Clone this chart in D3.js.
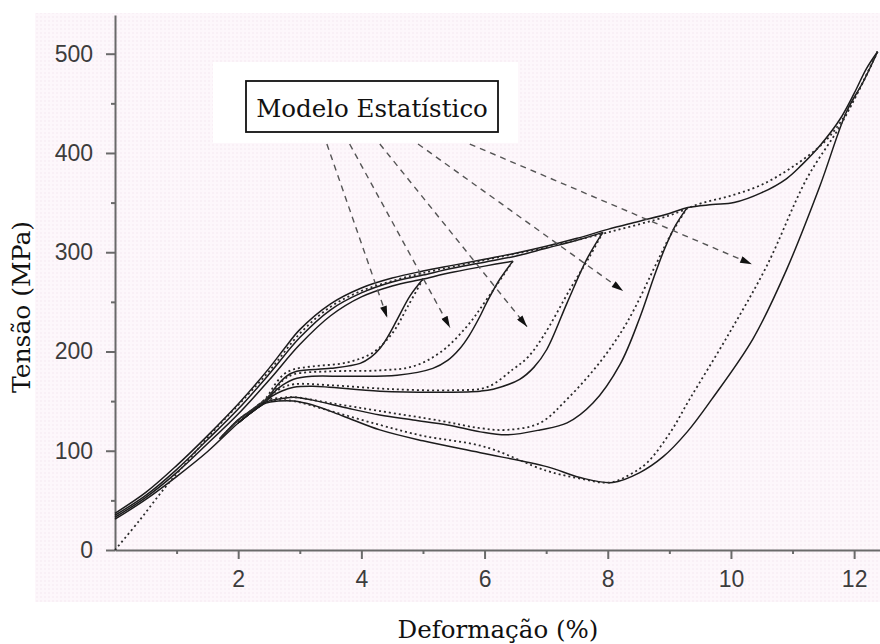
<!DOCTYPE html>
<html>
<head>
<meta charset="utf-8">
<script src="https://cdn.jsdelivr.net/npm/d3@7/dist/d3.min.js"></script>
<style>
  html, body { margin: 0; padding: 0; background: #fff; }
  svg { display: block; }
</style>
</head>
<body>
<svg id="chart" width="880" height="644"></svg>
<script>
// ---------- DATA (strain %, stress MPa) ----------
const xTicks = [2, 4, 6, 8, 10, 12];
const xMinorTicks = [1, 3, 5, 7, 9, 11];
const yTicks = [0, 100, 200, 300, 400, 500];
const yMinorTicks = [50, 150, 250, 350, 450];

// experimental loading bundle (solid)
const expLoadUpper = [[0,37],[0.5,58],[1,85],[1.5,115],[2,147],[2.5,183],[2.75,203],[3,222],[3.5,248],[4,264],[4.5,274],[5,281],[5.5,287],[6,293],[6.5,299],[7,306],[7.5,314],[8,323],[8.5,331],[9,339],[9.3,345],[9.7,348],[10.05,350],[10.5,360],[10.9,374],[11.15,388],[11.44,407],[11.77,434],[12.0,460],[12.2,485],[12.38,502]];
const expLoadMid = [[0,35],[0.5,55],[1,81],[1.5,111],[2,142],[2.5,177],[3,214],[3.5,242],[4,259],[4.5,270],[5,277],[5.5,284],[6,290],[6.5,296],[7,304],[7.5,312],[7.92,320]];
const expLoadLower = [[0,33],[0.5,53],[1,78],[1.5,107],[2,137],[2.5,171],[3,207],[3.5,236],[4,255],[4.5,266],[5,273],[5.5,280],[6,286],[6.46,291]];
// common elastic unloading tail (solid)
const expUnloadElastic = [[2.45,149],[2.2,138],[2,128],[1.5,99],[1,74],[0.5,51],[0,31]];

// experimental unloading (solid)
const expUnloadA = [[5.0,273],[4.79,256],[4.58,232],[4.42,214],[4.3,203],[4.15,194],[3.98,188],[3.5,183],[2.95,180],[2.78,175],[2.62,165],[2.45,151],[2.2,138],[2.0,128]];
const expUnloadB = [[6.46,291],[6.25,273],[6.04,250],[5.93,236],[5.75,216],[5.6,203],[5.4,191],[5.16,183],[4.58,176],[3.77,175],[3.2,175],[2.9,172],[2.72,166],[2.58,159],[2.45,150],[2.2,138],[2.0,128]];
const expUnloadC = [[7.92,320],[7.66,293],[7.34,249],[7.01,202],[6.8,184],[6.57,172],[6.14,162],[5.93,160],[5.39,159],[4.3,160],[3.21,165],[2.9,164],[2.7,160],[2.55,155],[2.45,150],[2.2,138],[2.0,128]];
const expUnloadD = [[9.29,345],[9.1,327],[8.92,303],[8.75,275],[8.52,234],[8.2,187],[7.76,148],[7.34,128],[6.9,121],[6.36,116],[5.93,119],[5.4,126],[4.84,131],[4.3,136],[3.77,143],[3.21,151],[2.9,154],[2.65,152],[2.45,149],[2.2,138],[2.0,128]];
const expUnloadE = [[12.38,502],[12.15,472],[11.88,442],[11.44,366],[10.9,282],[10.36,213],[9.69,152],[9.29,119],[8.9,94],[8.52,78],[8.08,68],[7.55,73],[7.01,84],[5.93,98],[5.0,110],[4.3,121],[3.7,135],[3.21,146],[2.9,150],[2.65,150],[2.45,148],[2.2,138],[2.0,128]];

// statistical model (dotted)
const modelLoad = [[0,0],[0.4,30],[0.8,62],[1.2,91],[1.6,120],[2,146],[2.5,180],[3,218],[3.5,245],[4,261],[4.5,271],[5,279],[6,292],[7,305],[8,320],[9,337],[9.5,349],[10,357],[10.5,368],[11,386],[11.5,410],[11.8,433],[12.1,466],[12.38,502]];
const modelUnloadA = [[5.0,273],[4.75,245],[4.51,219],[4.19,199],[3.77,189],[3.21,185],[2.9,182],[2.74,177],[2.6,167],[2.45,153],[2.2,140],[2.0,131],[1.7,112]];
const modelUnloadB = [[6.46,291],[6.04,253],[5.71,225],[5.28,199],[4.84,185],[4.3,181],[3.5,180],[2.9,177],[2.73,171],[2.6,162],[2.45,152],[2.2,140],[2.0,131],[1.7,112]];
const modelUnloadC = [[7.92,320],[7.7,295],[7.39,263],[6.95,215],[6.7,194],[6.46,182],[6.04,164],[5.5,161],[4.5,162],[3.5,166],[2.9,167],[2.7,163],[2.55,157],[2.45,152],[2.2,140],[2.0,131],[1.7,112]];
const modelUnloadD = [[9.29,345],[9.0,315],[8.8,290],[8.31,229],[7.87,189],[7.34,152],[6.9,128],[6.36,121],[5.9,123],[5.3,130],[4.3,140],[3.5,148],[2.9,154],[2.65,153],[2.45,151],[2.2,140],[2.0,131],[1.7,112]];
const modelUnloadE = [[12.38,502],[12.1,466],[11.77,427],[11.23,374],[10.58,286],[9.94,215],[9.33,152],[9.01,118],[8.64,88],[8.36,76],[8.04,68],[7.55,72],[7.0,80],[6.0,104],[5.0,115],[4.3,126],[3.5,140],[2.9,150],[2.65,151],[2.45,150],[2.2,140],[2.0,131],[1.7,112]];

const expCurves = [expLoadUpper, expLoadMid, expLoadLower, expUnloadElastic, expUnloadA, expUnloadB, expUnloadC, expUnloadD, expUnloadE];
const modelCurves = [modelLoad, modelUnloadA, modelUnloadB, modelUnloadC, modelUnloadD, modelUnloadE];

// annotation: arrows from the "Modelo Estatístico" label to the model loops (data units)
const arrowStarts = [[3.44,409],[3.81,409],[4.30,409],[4.92,409],[5.76,409]];
const arrowEnds   = [[4.42,234],[5.44,224],[6.69,225],[8.25,261],[10.34,288]];
const labelText = "Modelo Estatístico";
const xTitle = "Deformação (%)";
const yTitle = "Tensão (MPa)";

// ---------- LAYOUT ----------
const svg = d3.select("#chart");
const x = d3.scaleLinear().domain([0, 12.42]).range([115, 880]);
const y = d3.scaleLinear().domain([0, 539]).range([550, 15]);

const defs = svg.append("defs");
const pat = defs.append("pattern").attr("id", "dots").attr("width", 4).attr("height", 4)
  .attr("patternUnits", "userSpaceOnUse");
pat.append("rect").attr("width", 4).attr("height", 4).attr("fill", "#fdf7fb");
pat.append("circle").attr("cx", 1).attr("cy", 1).attr("r", 0.7).attr("fill", "#f3e6ee");

defs.append("marker").attr("id", "ah").attr("viewBox", "0 0 10 6")
  .attr("refX", 10).attr("refY", 3).attr("markerWidth", 13).attr("markerHeight", 7)
  .attr("markerUnits", "userSpaceOnUse").attr("orient", "auto")
  .append("path").attr("d", "M0,0 L10,3 L0,6 Z").attr("fill", "#111");

// background
svg.append("rect").attr("x", 35).attr("y", 13).attr("width", 845).attr("height", 589).attr("fill", "url(#dots)");
svg.append("rect").attr("x", 213).attr("y", 62).attr("width", 305).attr("height", 81).attr("fill", "#ffffff");

// axes
const axisColor = "#6a6a6a";
function styleAxis(g) {
  g.selectAll(".domain").attr("stroke", axisColor).attr("stroke-width", 2);
  g.selectAll(".tick line").attr("stroke", axisColor).attr("stroke-width", 2);
  g.selectAll(".tick text").attr("fill", "#3c3c3c")
    .attr("font-family", "'Liberation Sans', Arial, sans-serif").attr("font-size", 23);
}
const gx = svg.append("g").attr("transform", `translate(0,${y(0)})`)
  .call(d3.axisBottom(x).tickValues(xTicks).tickSize(9).tickPadding(12).tickSizeOuter(0));
styleAxis(gx);
const gxm = svg.append("g").attr("transform", `translate(0,${y(0)})`)
  .call(d3.axisBottom(x).tickValues(xMinorTicks).tickSize(4).tickFormat("").tickSizeOuter(0));
styleAxis(gxm); gxm.select(".domain").remove();

const gy = svg.append("g").attr("transform", `translate(${x(0)},0)`)
  .call(d3.axisLeft(y).tickValues(yTicks).tickSize(9).tickPadding(13).tickSizeOuter(0));
styleAxis(gy);
const gym = svg.append("g").attr("transform", `translate(${x(0)},0)`)
  .call(d3.axisLeft(y).tickValues(yMinorTicks).tickSize(4).tickFormat("").tickSizeOuter(0));
styleAxis(gym); gym.select(".domain").remove();

// curves
const line = d3.line().x(d => x(d[0])).y(d => y(d[1])).curve(d3.curveCatmullRom.alpha(0.5));
const plot = svg.append("g");
plot.selectAll("path.exp").data(expCurves).join("path").attr("class", "exp")
  .attr("d", line).attr("fill", "none").attr("stroke", "#1c1c1c").attr("stroke-width", 1.5);
plot.selectAll("path.model").data(modelCurves).join("path").attr("class", "model")
  .attr("d", line).attr("fill", "none").attr("stroke", "#2a2a2a").attr("stroke-width", 1.8)
  .attr("stroke-dasharray", "2,3");

// arrows
svg.append("g").selectAll("line").data(d3.range(arrowStarts.length)).join("line")
  .attr("x1", i => x(arrowStarts[i][0])).attr("y1", i => y(arrowStarts[i][1]))
  .attr("x2", i => x(arrowEnds[i][0])).attr("y2", i => y(arrowEnds[i][1]))
  .attr("stroke", "#555").attr("stroke-width", 1.4).attr("stroke-dasharray", "6,5")
  .attr("marker-end", "url(#ah)");

// label box
svg.append("rect").attr("x", 246).attr("y", 81).attr("width", 252).attr("height", 51)
  .attr("fill", "#fff").attr("stroke", "#111").attr("stroke-width", 1.8);
svg.append("text").attr("x", 372).attr("y", 117).attr("text-anchor", "middle")
  .attr("font-family", "'DejaVu Serif', serif").attr("font-size", 24.5).attr("fill", "#111")
  .text(labelText);

// axis titles
svg.append("text").attr("x", 498).attr("y", 638).attr("text-anchor", "middle")
  .attr("font-family", "'DejaVu Serif', serif").attr("font-size", 24.5).attr("fill", "#111")
  .text(xTitle);
svg.append("text").attr("transform", "translate(30,307) rotate(-90)").attr("text-anchor", "middle")
  .attr("font-family", "'DejaVu Serif', serif").attr("font-size", 25).attr("fill", "#111")
  .text(yTitle);
</script>
</body>
</html>
